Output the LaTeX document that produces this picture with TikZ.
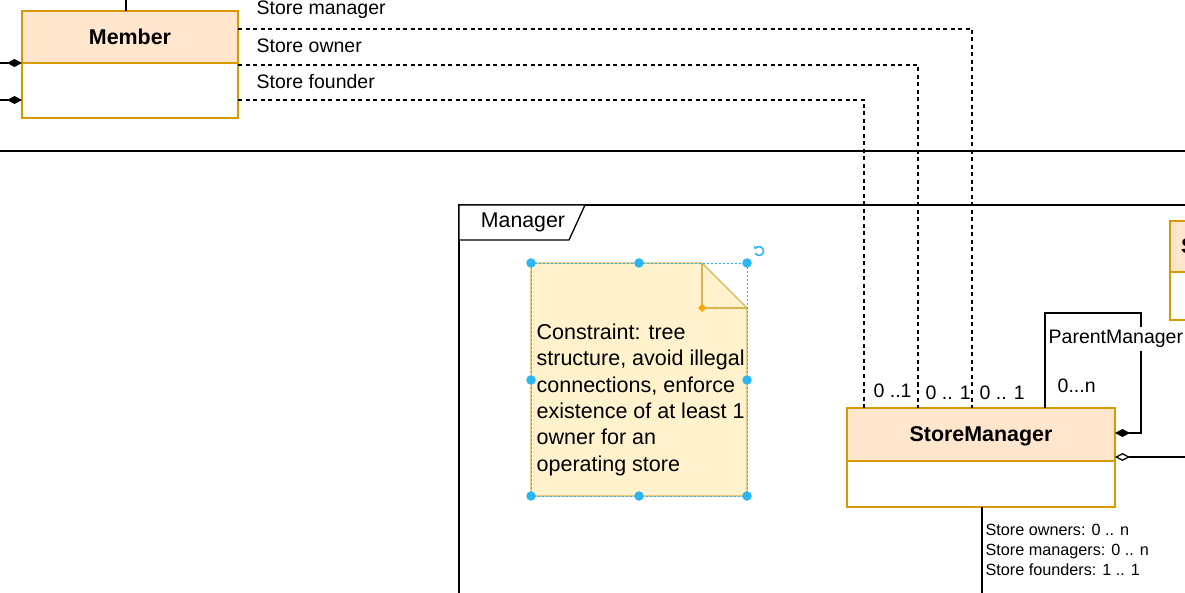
\documentclass[tikz,border=0pt]{standalone}
\usepackage{fontspec}
\setmainfont{Liberation Sans}
\usetikzlibrary{positioning,calc,arrows.meta}

\definecolor{hdrfill}{HTML}{FFE6CC}
\definecolor{hdrdraw}{HTML}{D79B00}
\definecolor{notefill}{HTML}{FFF2CC}
\definecolor{notedraw}{HTML}{D6B656}
\definecolor{handle}{HTML}{29B6F2}
\definecolor{handleor}{HTML}{FFA500}

\begin{document}
\begin{tikzpicture}[x=1pt,y=-1pt,line width=1.3pt,
      classhead/.style={draw=hdrdraw,fill=hdrfill,line width=1.6pt,inner sep=0pt,
        outer sep=0pt,text depth=0pt,font=\fontsize{21.4}{24}\selectfont\bfseries},
      classbody/.style={draw=hdrdraw,fill=white,line width=1.6pt,inner sep=0pt,outer sep=0pt},
      assoc/.style={dash pattern=on 4pt off 3.5pt,line width=1.3pt},
      lbl/.style={inner sep=0pt,font=\fontsize{19.5}{23}\selectfont},
      smalllbl/.style={inner sep=0pt,font=\fontsize{16.2}{20}\selectfont,align=left},
      notetext/.style={inner sep=0pt,font=\fontsize{21.5}{26.4}\selectfont,align=left},
      handledot/.style={circle,fill=handle,inner sep=0pt,minimum size=9.5pt},
      comp/.style={-{Diamond[length=15pt,width=8pt]}},
      aggr/.style={-{Diamond[open,fill=white,length=15pt,width=8pt]}}]
      \useasboundingbox (0,0) rectangle (1185,593);
      \clip (0,0) rectangle (1185,593);

      % Member class
      \node[classhead,minimum width=216pt,minimum height=52pt] (memberHead) at (130,37) {Member};
      \node[classbody,minimum width=216pt,minimum height=55pt] (memberBody) [below=0pt of memberHead] {};
      \draw ($(memberHead.north)+(-4,0)$) -- ++(0,-15);
      \coordinate (leftA) at (-5,63);
      \coordinate (leftB) at (-5,100);
      \draw[comp] (leftA) -- (memberHead.south west);
      \draw[comp] (leftB) -- ($(memberBody.north west)+(0,37)$);

      % separator
      \draw (-5,151) -- (1190,151);

      % package frame
      \draw (459,600) -- (459,205) -- (1190,205);
      \draw[fill=white] (459,205) -- (585,205) -- (569,240) -- (459,240) -- cycle;
      \node[lbl,font=\fontsize{21.3}{24}\selectfont] (pkgName) at (523,222) {Manager};

      % note
      \fill[notefill] (531,263) -- (702,263) -- (747,308) -- (747,496) -- (531,496) -- cycle;
      \draw[notedraw,line width=1.2pt] (531,263) -- (702,263) -- (747,308) -- (747,496) -- (531,496) -- cycle;
      \draw[notedraw,line width=1.2pt] (702,263) -- (702,308) -- (747,308);
      \draw[handle,line width=0.6pt,dash pattern=on 2pt off 2pt] (531,263) rectangle (747,496);
      \foreach \hx/\hy in {531/263,639/263,747/263,531/380,747/380,531/496,639/496,747/496}
        \node[handledot] at (\hx,\hy) {};
      \fill[handleor] (702,304) -- (706,308) -- (702,312) -- (698,308) -- cycle;
      \draw[handle,line width=1.5pt,-{Stealth[length=3.5pt,width=5pt]}] (759,251) ++(150:4.5) arc (150:-160:4.5);
      \node[notetext,anchor=north west] (noteText) at (536,323)
        {Constraint: tree\\structure, avoid illegal\\connections, enforce\\existence of at least 1\\owner for an\\operating store};

      % StoreManager class
      \node[classhead,minimum width=268pt,minimum height=53pt] (smHead) at (981,434.5) {StoreManager};
      \node[classbody,minimum width=268pt,minimum height=46pt] (smBody) [below=0pt of smHead] {};

      % other class, cut at the edge
      \node[classhead,minimum width=230pt,minimum height=51pt,anchor=north west] (otherHead) at (1170,221) {};
      \node[classbody,minimum width=230pt,minimum height=48pt] (otherBody) [below=0pt of otherHead] {};
      \node[classhead,draw=none,fill=none,anchor=base west] (otherName) at (1181,254) {S};

      % Member -- StoreManager associations
      \draw[assoc] ($(memberHead.north east)+(0,18)$) -| ($(smHead.north west)+(125,0)$);
      \draw[assoc] ($(memberHead.south east)+(0,2)$) -| ($(smHead.north west)+(71,0)$);
      \draw[assoc] ($(memberBody.north east)+(0,37)$) -| ($(smHead.north west)+(17,0)$);
      \node[lbl,anchor=base west] (lblManager) at (256,15) {Store manager};
      \node[lbl,anchor=base west] (lblOwner) at (256,53) {Store owner};
      \node[lbl,anchor=base west] (lblFounder) at (256,89) {Store founder};
      \node[lbl,anchor=base west] (multFounder) at (873,397) {0 ..1};
      \node[lbl,anchor=base west] (multOwner) at (925,399) {0 .. 1};
      \node[lbl,anchor=base west] (multManager) at (979,399) {0 .. 1};

      % parent manager loop
      \draw[comp] ($(smHead.north west)+(198,0)$) -- ++(0,-95) -- ++(96,0) |- ($(smHead.east)+(0,-1.5)$);
      \node[lbl,fill=white,inner ysep=3pt,anchor=west] (lblParent) at (1048,339) {ParentManager};
      \node[lbl,anchor=base west] (multParent) at (1057,392) {0...n};

      % aggregation to the right
      \coordinate (rightEnd) at (1190,457);
      \draw[aggr] (rightEnd) -- ($(smHead.south east)+(0,-4)$);

      % link below StoreManager
      \draw ($(smBody.south west)+(135,0)$) -- ++(0,100);
      \node[smalllbl,anchor=north west] (lblCounts) at (985,524)
        {Store owners: 0 .. n\\Store managers: 0 .. n\\Store founders: 1 .. 1};
\end{tikzpicture}
\end{document}
